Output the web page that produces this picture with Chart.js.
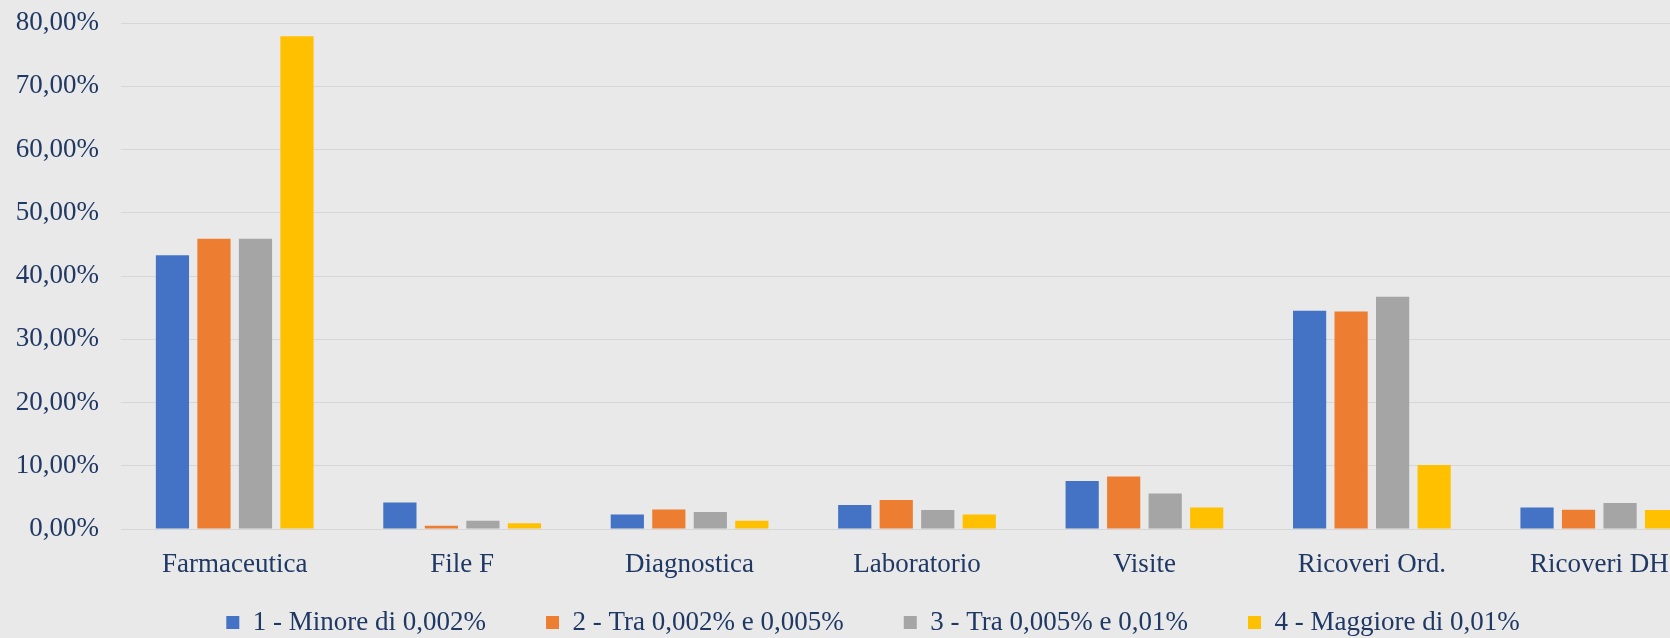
<!DOCTYPE html>
<html lang="it">

<head>
    <meta charset="UTF-8">
    <title>Distribuzione per categoria di spesa</title>
    <script src="https://cdn.jsdelivr.net/npm/chart.js@4.4.0/dist/chart.umd.min.js"></script>
    <style>
        html, body {
            margin: 0;
            padding: 0;
            overflow: hidden;
            background: #e9e9e9;
        }

        .wrap {
            width: 1746px;
            height: 638px;
        }
    </style>
</head>

<body>
    <div class="wrap">
        <canvas id="chart" width="1746" height="638"></canvas>
    </div>

    <script>
        // Data
        const categories = ["Farmaceutica", "File F", "Diagnostica", "Laboratorio", "Visite", "Ricoveri Ord.", "Ricoveri DH"];
        const seriesNames = ["1 - Minore di 0,002%", "2 - Tra 0,002% e 0,005%", "3 - Tra 0,005% e 0,01%", "4 - Maggiore di 0,01%"];
        const minore = [43.3, 4.2, 2.3, 3.8, 7.6, 34.5, 3.4];
        const tra002 = [45.9, 0.5, 3.1, 4.6, 8.3, 34.4, 3.05];
        const tra005 = [45.9, 1.3, 2.7, 3.0, 5.6, 36.7, 4.1];
        const maggiore = [77.9, 0.9, 1.3, 2.3, 3.4, 10.1, 3.0];
        const yTicks = [0, 10, 20, 30, 40, 50, 60, 70, 80];

        const colors = ["#4472c4", "#ed7d31", "#a5a5a5", "#ffc000"];
        const textColor = "#1f3864";
        const font = { family: "'Liberation Serif', 'Times New Roman', serif", size: 27 };

        function pct(v) {
            return v.toFixed(2).replace(".", ",") + "%";
        }

        var ctx = document.getElementById("chart").getContext("2d");
        var chart = new Chart(ctx, {
            type: "bar",
            data: {
                labels: categories,
                datasets: [minore, tra002, tra005, maggiore].map((d, i) => ({
                    label: seriesNames[i],
                    data: d,
                    backgroundColor: colors[i],
                    borderWidth: 0,
                    categoryPercentage: 0.73,
                    barPercentage: 0.8
                }))
            },
            options: {
                responsive: false,
                animation: false,
                layout: { padding: { top: 23, right: 0, bottom: -8, left: 0 } },
                scales: {
                    x: {
                        grid: { display: false, drawTicks: false },
                        border: { display: false },
                        ticks: { color: textColor, font: font, padding: 20, maxRotation: 0 },
                        // short axis box so the legend sits close; labels are not clipped to it
                        afterFit: (scale) => {
                            scale.height = 20;
                            scale._computeLabelArea = () => null;
                        }
                    },
                    y: {
                        min: 0,
                        max: 80,
                        afterBuildTicks: (scale) => {
                            scale.ticks = yTicks.map(v => ({ value: v }));
                        },
                        afterFit: (scale) => {
                            scale.width = 121;
                            scale.paddingTop = 0;
                            scale.paddingBottom = 0;
                        },
                        grid: { color: "#d6d6d6", lineWidth: 1, drawTicks: false },
                        border: { display: false },
                        ticks: { color: textColor, font: font, padding: 22, callback: (v) => pct(v) }
                    },
                    // empty right axis, only reserves the right margin of the plot
                    yRight: {
                        position: "right",
                        grid: { display: false, drawTicks: false },
                        border: { display: false },
                        ticks: { display: false },
                        afterFit: (scale) => {
                            scale.width = 33;
                        }
                    }
                },
                plugins: {
                    legend: {
                        position: "bottom",
                        labels: {
                            color: textColor,
                            font: font,
                            boxWidth: 13,
                            boxHeight: 13,
                            padding: 60
                        }
                    },
                    tooltip: { enabled: false }
                }
            }
        });
    </script>
</body>

</html>
